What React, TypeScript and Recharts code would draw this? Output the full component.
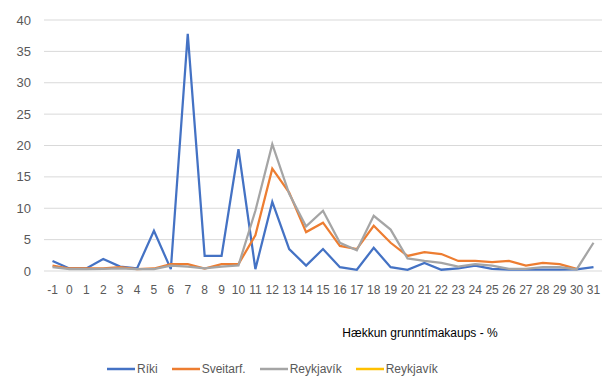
import React from 'react';
import { LineChart, Line, XAxis, YAxis, CartesianGrid, Label } from 'recharts';

// Category labels on the x axis (wage increase in %)
const categories = [
  '-1', '0', '1', '2', '3', '4', '5', '6', '7', '8', '9', '10', '11', '12', '13', '14', '15',
  '16', '17', '18', '19', '20', '21', '22', '23', '24', '25', '26', '27', '28', '29', '30', '31',
];

// Series values
const riki = [
  1.6, 0.4, 0.4, 1.9, 0.7, 0.4, 6.4, 0.3, 37.8, 2.4, 2.4, 19.4, 0.3, 11.0, 3.5, 0.85, 3.5,
  0.6, 0.2, 3.7, 0.6, 0.2, 1.3, 0.2, 0.4, 0.85, 0.35, 0.2, 0.2, 0.2, 0.2, 0.25, 0.6,
];
const sveitarf = [
  0.85, 0.4, 0.4, 0.4, 0.6, 0.3, 0.4, 1.1, 1.1, 0.4, 1.1, 1.1, 5.7, 16.3, 12.5, 6.2, 7.7,
  4.0, 3.5, 7.2, 4.5, 2.4, 3.0, 2.7, 1.6, 1.6, 1.4, 1.6, 0.85, 1.3, 1.1, 0.35, null,
];
const reykjavik = [
  0.6, 0.3, 0.3, 0.35, 0.4, 0.3, 0.3, 0.85, 0.7, 0.4, 0.7, 0.9, 9.6, 20.2, 12.3, 7.1, 9.6,
  4.5, 3.3, 8.8, 6.6, 2.0, 1.6, 1.3, 0.7, 1.1, 0.85, 0.35, 0.35, 0.6, 0.6, 0.25, 4.5,
];
// Fourth series only shows in the legend
const reykjavik2: (number | null)[] = categories.map(() => null);

const yTicks = [0, 5, 10, 15, 20, 25, 30, 35, 40];

const series = [
  { key: 'riki', name: 'Ríki', color: '#4472C4' },
  { key: 'sveitarf', name: 'Sveitarf.', color: '#ED7D31' },
  { key: 'reykjavik', name: 'Reykjavík', color: '#A5A5A5' },
  { key: 'reykjavik2', name: 'Reykjavík', color: '#FFC000' },
];

const data = categories.map((c, i) => ({
  cat: c,
  riki: riki[i],
  sveitarf: sveitarf[i],
  reykjavik: reykjavik[i],
  reykjavik2: reykjavik2[i],
}));

const FONT = '"Liberation Sans", Arial, sans-serif';
const TEXT = '#595959';

export default function App() {
  return (
    <div style={{ position: 'absolute', left: 0, top: 0, width: 611, height: 378, background: '#fff' }}>
      <LineChart width={611} height={378} data={data} margin={{ top: 20, right: 9, left: 8, bottom: 0 }}>
        <CartesianGrid horizontal vertical={false} stroke="#d9d9d9" />
        <XAxis
          dataKey="cat"
          interval={0}
          axisLine={false}
          tickLine={false}
          tickMargin={8}
          height={107}
          padding={{ left: 8.5, right: 8.5 }}
          tick={{ fill: TEXT, fontSize: 12, fontFamily: FONT }}
        >
          <Label
            content={() => (
              <text x={420} y={337} textAnchor="middle" fill="#000" fontSize={12} fontFamily={FONT}>
                Hækkun grunntímakaups - %
              </text>
            )}
          />
        </XAxis>
        <YAxis
          domain={[0, 40]}
          ticks={yTicks}
          width={36}
          axisLine={false}
          tickLine={false}
          tickMargin={7}
          tick={{ fill: TEXT, fontSize: 13, fontFamily: FONT }}
        />
        {series.map((s) => (
          <Line
            key={s.key}
            dataKey={s.key}
            name={s.name}
            stroke={s.color}
            strokeWidth={2.25}
            dot={false}
            isAnimationActive={false}
          />
        ))}
      </LineChart>
      <div
        style={{
          position: 'absolute',
          left: 107,
          top: 361,
          display: 'flex',
          alignItems: 'center',
          fontFamily: FONT,
          fontSize: 12,
          color: TEXT,
          lineHeight: '16px',
        }}
      >
        {series.map((s, i) => (
          <div key={i} style={{ display: 'flex', alignItems: 'center', marginRight: 14 }}>
            <svg width={28} height={4} style={{ marginRight: 2 }}>
              <line x1={0} y1={2} x2={28} y2={2} stroke={s.color} strokeWidth={2.5} />
            </svg>
            <span>{s.name}</span>
          </div>
        ))}
      </div>
    </div>
  );
}
